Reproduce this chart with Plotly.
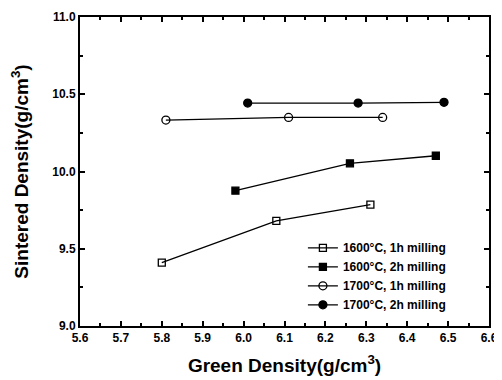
import plotly.graph_objects as go

names = ["1600°C, 1h milling", "1600°C, 2h milling", "1700°C, 1h milling", "1700°C, 2h milling"]
x_1600_1h = [5.80, 6.08, 6.31]
y_1600_1h = [9.41, 9.68, 9.785]
x_1600_2h = [5.98, 6.26, 6.47]
y_1600_2h = [9.876, 10.053, 10.102]
x_1700_1h = [5.81, 6.11, 6.34]
y_1700_1h = [10.333, 10.35, 10.35]
x_1700_2h = [6.01, 6.28, 6.49]
y_1700_2h = [10.443, 10.443, 10.448]

series = [
    (x_1600_1h, y_1600_1h, "square-open", 7),
    (x_1600_2h, y_1600_2h, "square", 7),
    (x_1700_1h, y_1700_1h, "circle-open", 8),
    (x_1700_2h, y_1700_2h, "circle", 8),
]

fig = go.Figure()
for name, (xs, ys, sym, sz) in zip(names, series):
    fig.add_trace(go.Scatter(
        x=xs, y=ys, name=name, mode="lines+markers",
        line=dict(color="black", width=1.3),
        marker=dict(symbol=sym, size=sz, color="black",
                    line=dict(color="black", width=1.3)),
    ))

font = dict(family="Liberation Sans, Arial", color="black", weight="bold")
fig.update_layout(
    width=502, height=380,
    margin=dict(l=72, r=21, t=9, b=62, autoexpand=False),
    paper_bgcolor="white", plot_bgcolor="white",
    font=dict(**font, size=12),
    showlegend=True,
    legend=dict(x=0.545, y=0.30, xanchor="left", yanchor="top",
                bgcolor="rgba(0,0,0,0)", font=dict(**font, size=12),
                tracegroupgap=0, itemwidth=30),
)
fig.update_xaxes(
    range=[5.6, 6.6], dtick=0.1, tick0=5.6, tickformat=".1f",
    showgrid=False, zeroline=False, automargin=False,
    showline=True, linecolor="black", linewidth=2, mirror="ticks",
    ticks="inside", ticklen=5, tickwidth=1.5, tickcolor="black",
    minor=dict(dtick=0.05, ticks="inside", ticklen=3, tickcolor="black", showgrid=False),
    title=dict(text="Green Density(g/cm<sup>3</sup>)", font=dict(**font, size=19), standoff=14),
    tickfont=dict(**font, size=12),
)
fig.update_yaxes(
    range=[9.0, 11.0], dtick=0.5, tick0=9.0, tickformat=".1f",
    showgrid=False, zeroline=False, automargin=False,
    showline=True, linecolor="black", linewidth=2, mirror="ticks",
    ticks="inside", ticklen=5, tickwidth=1.5, tickcolor="black",
    minor=dict(dtick=0.25, ticks="inside", ticklen=3, tickcolor="black", showgrid=False),
    title=dict(text="Sintered Density(g/cm<sup>3</sup>)", font=dict(**font, size=19), standoff=20),
    tickfont=dict(**font, size=12),
)
fig.write_html("out.html")
